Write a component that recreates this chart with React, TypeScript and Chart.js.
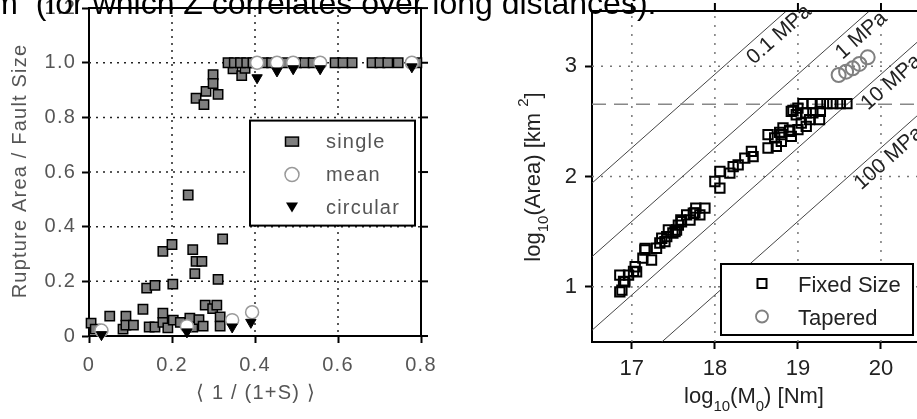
import React, { useEffect, useRef } from "react";
import { Chart, registerables } from "chart.js";
Chart.register(...registerables);

// ---------- Left panel data ----------
const singleX = [
  0.005, 0.015, 0.05, 0.082, 0.089, 0.089, 0.107, 0.13, 0.139, 0.145, 0.159, 0.159, 0.178, 0.178, 0.178, 0.19, 0.2, 0.202,
  0.203, 0.22, 0.239, 0.243, 0.25, 0.25, 0.255, 0.258, 0.265, 0.272, 0.275, 0.28, 0.298, 0.308, 0.311, 0.316, 0.316, 0.322,
  0.258, 0.277, 0.282, 0.299, 0.299, 0.311, 0.347, 0.368, 0.376,
  0.335, 0.35, 0.365, 0.38, 0.395, 0.42, 0.44, 0.47, 0.5, 0.52, 0.54, 0.593, 0.612, 0.634, 0.682, 0.701, 0.72, 0.745, 0.79,
];
const singleY = [
  0.047, 0.025, 0.073, 0.025, 0.073, 0.04, 0.04, 0.098, 0.175, 0.033, 0.185, 0.033, 0.31, 0.084, 0.05, 0.03, 0.335, 0.19,
  0.058, 0.05, 0.516, 0.065, 0.316, 0.033, 0.228, 0.273, 0.06, 0.273, 0.036, 0.113, 0.1, 0.113, 0.207, 0.07, 0.036, 0.355,
  0.87, 0.847, 0.895, 0.956, 0.924, 0.884, 0.978, 0.953, 0.98,
  1, 1, 1, 1, 1, 1, 1, 1, 1, 1, 1, 1, 1, 1, 1, 1, 1, 1, 1,
];
const meanX = [0.03, 0.236, 0.345, 0.393, 0.405, 0.453, 0.492, 0.557, 0.778];
const meanY = [0.02, 0.036, 0.058, 0.087, 1.0, 1.0, 1.0, 1.0, 1.0];
const circularX = [0.03, 0.236, 0.345, 0.39, 0.405, 0.453, 0.492, 0.557, 0.778];
const circularY = [0.005, 0.015, 0.033, 0.05, 0.945, 0.97, 0.978, 0.978, 0.985];
const leftXTicks = [0, 0.2, 0.4, 0.6, 0.8];
const leftYTicks = [0, 0.2, 0.4, 0.6, 0.8, 1.0, 1.2];
const leftLegendLabels = ["single", "mean", "circular"];
const leftXTitle = "⟨ 1 / (1+S) ⟩";
const leftYTitle = "Rupture Area / Fault Size";

// ---------- Right panel data ----------
const fixedX = [
  16.855, 16.855, 16.88, 16.9, 16.916, 16.96, 17.02, 17.04, 17.057, 17.133, 17.157, 17.16, 17.237, 17.297, 17.337, 17.36,
  17.398, 17.42, 17.44, 17.494, 17.52, 17.538, 17.56, 17.59, 17.598, 17.66, 17.7, 17.74, 17.759, 17.77, 17.819, 17.88,
  18.0, 18.06, 18.06, 18.18, 18.22, 18.28, 18.36, 18.44, 18.46, 18.64, 18.64, 18.72, 18.74, 18.78, 18.8, 18.8,
  18.82, 18.9, 18.9, 18.92, 18.92, 18.94, 18.98, 19.0, 19.0, 19.04, 19.1, 19.1, 19.14, 19.18, 19.26, 19.27,
  19.06, 19.17, 19.27, 19.35, 19.42, 19.51, 19.59,
];
const fixedY = [
  1.106, 0.955, 0.97, 1.05, 1.045, 1.106, 1.14, 1.182, 1.136, 1.26, 1.334, 1.349, 1.243, 1.35, 1.397, 1.44,
  1.41, 1.455, 1.515, 1.488, 1.5, 1.515, 1.56, 1.606, 1.59, 1.652, 1.606, 1.667, 1.67, 1.713, 1.652, 1.713,
  1.955, 2.045, 1.895, 2.03, 2.09, 2.106, 2.167, 2.227, 2.18, 2.258, 2.379, 2.35, 2.273, 2.4, 2.318, 2.379,
  2.44, 2.41, 2.42, 2.364, 2.59, 2.6, 2.56, 2.425, 2.62, 2.485, 2.455, 2.576, 2.515, 2.576, 2.515, 2.59,
  2.66, 2.66, 2.66, 2.66, 2.66, 2.66, 2.66,
];
const taperedX = [19.49, 19.58, 19.66, 19.74, 19.84];
const taperedY = [2.92, 2.95, 2.98, 3.02, 3.08];
const rightXTicks = [17, 18, 19, 20];
const rightYTicks = [1, 2, 3];
const stressDrops = [0.1, 1, 10, 100]; // MPa
const stressLabels = ["0.1 MPa", "1 MPa", "10 MPa", "100 MPa"];
const stressLabelAtX = [18.67, 19.66, 20.02, 19.99];
const moment1MPaUnitArea = 14.61; // log10 M0 where log10 A = 0 for 1 MPa
const saturationLogArea = 2.655;
const rightLegendLabels = ["Fixed Size", "Tapered"];

const FAM = '"Liberation Sans", Arial, sans-serif';
const LEFT_SIZE = 20;
const LEFT_COLOR = "#555";

type Seg = { text: string; size: number; dy: number };
function drawRich(ctx: CanvasRenderingContext2D, segs: Seg[], cx: number, base: number, color: string) {
  let total = 0;
  const widths = segs.map((s) => {
    ctx.font = `${s.size}px ${FAM}`;
    const w = ctx.measureText(s.text).width;
    total += w;
    return w;
  });
  let x = cx - total / 2;
  ctx.fillStyle = color;
  ctx.textAlign = "left";
  ctx.textBaseline = "alphabetic";
  segs.forEach((s, i) => {
    ctx.font = `${s.size}px ${FAM}`;
    ctx.fillText(s.text, x, base + s.dy);
    x += widths[i];
  });
}

const leftDecor = {
  id: "leftDecor",
  beforeDraw(chart: any) {
    (chart.ctx as any).letterSpacing = "1.2px";
  },
  beforeDatasetsDraw(chart: any) {
    const { ctx, chartArea: a, scales } = chart;
    const x = scales.x, y = scales.y;
    ctx.save();
    ctx.strokeStyle = "#222";
    ctx.lineWidth = 1.5;
    ctx.setLineDash([2, 5]);
    leftXTicks.forEach((v) => {
      if (v <= x.min || v >= x.max) return;
      const p = x.getPixelForValue(v);
      ctx.beginPath(); ctx.moveTo(p, a.top); ctx.lineTo(p, a.bottom); ctx.stroke();
    });
    leftYTicks.forEach((v) => {
      if (v <= y.min || v >= y.max) return;
      const p = y.getPixelForValue(v);
      ctx.beginPath(); ctx.moveTo(a.left, p); ctx.lineTo(a.right, p); ctx.stroke();
    });
    ctx.setLineDash([]);
    ctx.strokeStyle = "#000";
    ctx.lineWidth = 2;
    ctx.beginPath();
    ctx.moveTo(a.left, a.top); ctx.lineTo(a.right, a.top); ctx.lineTo(a.right, a.bottom);
    ctx.stroke();
    leftYTicks.forEach((v) => {
      const p = y.getPixelForValue(v);
      ctx.beginPath(); ctx.moveTo(a.right, p); ctx.lineTo(a.right + 7, p); ctx.stroke();
    });
    ctx.restore();
  },
  afterDatasetsDraw(chart: any) {
    const { ctx, chartArea: a } = chart;
    ctx.save();
    // legend
    const bx = a.left + 161, by = a.top + 112.5, bw = 165, bh = 105;
    ctx.fillStyle = "#fff";
    ctx.fillRect(bx, by, bw, bh);
    ctx.strokeStyle = "#000";
    ctx.lineWidth = 2;
    ctx.strokeRect(bx, by, bw, bh);
    const ix = bx + 42;
    const rows = [by + 21, by + 54, by + 87];
    ctx.fillStyle = "#7f7f7f";
    ctx.fillRect(ix - 6.5, rows[0] - 4.5, 13, 9);
    ctx.lineWidth = 1.5;
    ctx.strokeRect(ix - 6.5, rows[0] - 4.5, 13, 9);
    ctx.beginPath();
    ctx.arc(ix, rows[1], 7, 0, Math.PI * 2);
    ctx.fillStyle = "#fff"; ctx.fill();
    ctx.strokeStyle = "#999"; ctx.stroke();
    ctx.beginPath();
    ctx.moveTo(ix - 6, rows[2] - 5); ctx.lineTo(ix + 6, rows[2] - 5); ctx.lineTo(ix, rows[2] + 5); ctx.closePath();
    ctx.fillStyle = "#000"; ctx.fill();
    ctx.font = `${LEFT_SIZE}px ${FAM}`;
    ctx.fillStyle = LEFT_COLOR;
    ctx.textAlign = "left";
    ctx.textBaseline = "alphabetic";
    leftLegendLabels.forEach((t, i) => ctx.fillText(t, bx + 76, rows[i] + 6));
    // titles
    ctx.textAlign = "center";
    ctx.fillText(leftXTitle, 256, 399);
    ctx.translate(26, 171);
    ctx.rotate(-Math.PI / 2);
    ctx.fillText(leftYTitle, 0, 0);
    ctx.restore();
  },
};

function stressLogArea(logM0: number, sigma: number) {
  return (logM0 - (moment1MPaUnitArea + Math.log10(sigma))) / 1.5;
}

const rightDecor = {
  id: "rightDecor",
  beforeDatasetsDraw(chart: any) {
    const { ctx, chartArea: a, scales } = chart;
    const x = scales.x, y = scales.y;
    ctx.save();
    ctx.beginPath();
    ctx.rect(a.left, a.top, a.right - a.left, a.bottom - a.top);
    ctx.clip();
    ctx.strokeStyle = "#777";
    ctx.lineWidth = 1.5;
    ctx.setLineDash([2, 7]);
    rightXTicks.forEach((v) => {
      const p = x.getPixelForValue(v);
      ctx.beginPath(); ctx.moveTo(p, a.bottom); ctx.lineTo(p, a.top); ctx.stroke();
    });
    rightYTicks.forEach((v) => {
      const p = y.getPixelForValue(v);
      ctx.beginPath(); ctx.moveTo(a.left, p); ctx.lineTo(a.right, p); ctx.stroke();
    });
    ctx.setLineDash([]);
    ctx.strokeStyle = "#444";
    ctx.lineWidth = 1;
    stressDrops.forEach((s) => {
      ctx.beginPath();
      ctx.moveTo(x.getPixelForValue(x.min), y.getPixelForValue(stressLogArea(x.min, s)));
      ctx.lineTo(x.getPixelForValue(x.max), y.getPixelForValue(stressLogArea(x.max, s)));
      ctx.stroke();
    });
    ctx.strokeStyle = "#888";
    ctx.lineWidth = 1.5;
    ctx.setLineDash([14, 8]);
    const sp = y.getPixelForValue(saturationLogArea);
    ctx.beginPath(); ctx.moveTo(a.left, sp); ctx.lineTo(a.right, sp); ctx.stroke();
    ctx.restore();

    ctx.save();
    ctx.strokeStyle = "#000";
    ctx.lineWidth = 2;
    ctx.beginPath(); ctx.moveTo(a.left, a.top); ctx.lineTo(a.right + 20, a.top); ctx.stroke();
    rightXTicks.forEach((v) => {
      const p = x.getPixelForValue(v);
      ctx.beginPath(); ctx.moveTo(p, a.top); ctx.lineTo(p, a.top - 8); ctx.stroke();
    });
    const dx = x.getPixelForValue(x.min + 1) - x.getPixelForValue(x.min);
    const dy = y.getPixelForValue(y.min) - y.getPixelForValue(y.min + 1 / 1.5);
    const ang = Math.atan2(dy, dx);
    ctx.font = `21px ${FAM}`;
    ctx.fillStyle = "#222";
    ctx.textAlign = "center";
    ctx.textBaseline = "middle";
    stressDrops.forEach((s, i) => {
      const lx = stressLabelAtX[i];
      const px = x.getPixelForValue(lx);
      const py = y.getPixelForValue(stressLogArea(lx, s));
      const d = 13;
      ctx.save();
      ctx.translate(px + Math.sin(ang) * d, py + Math.cos(ang) * d);
      ctx.rotate(-ang);
      ctx.fillText(stressLabels[i], 0, 0);
      ctx.restore();
    });
    ctx.restore();
  },
  afterDatasetsDraw(chart: any) {
    const { ctx, chartArea: a } = chart;
    ctx.save();
    const bx = a.left + 129, bw = 192, bh = 71, by = a.bottom - 7 - bh;
    ctx.fillStyle = "#fff";
    ctx.fillRect(bx, by, bw, bh);
    ctx.strokeStyle = "#000";
    ctx.lineWidth = 2;
    ctx.strokeRect(bx, by, bw, bh);
    const ix = bx + 41;
    const rows = [by + 19.5, by + 52.5];
    ctx.strokeRect(ix - 4.5, rows[0] - 4.5, 9, 9);
    ctx.beginPath();
    ctx.arc(ix, rows[1], 6, 0, Math.PI * 2);
    ctx.strokeStyle = "#808080";
    ctx.lineWidth = 1.8;
    ctx.stroke();
    ctx.font = `22px ${FAM}`;
    ctx.fillStyle = "#222";
    ctx.textAlign = "left";
    ctx.textBaseline = "alphabetic";
    rightLegendLabels.forEach((t, i) => ctx.fillText(t, bx + 77, rows[i] + 8));
    drawRich(ctx, [
      { text: "log", size: 22, dy: 0 },
      { text: "10", size: 15, dy: 8 },
      { text: "(M", size: 22, dy: 0 },
      { text: "0", size: 15, dy: 8 },
      { text: ") [Nm]", size: 22, dy: 0 },
    ], 294, 403, "#222");
    ctx.save();
    ctx.translate(80, 177);
    ctx.rotate(-Math.PI / 2);
    drawRich(ctx, [
      { text: "log", size: 22, dy: 0 },
      { text: "10", size: 15, dy: 8 },
      { text: "(Area) [km ", size: 22, dy: 0 },
      { text: "2", size: 15, dy: -12 },
      { text: "]", size: 22, dy: 0 },
    ], 0, 0, "#222");
    ctx.restore();
    ctx.restore();
  },
};

function tickSetter(list: number[]) {
  return (s: any) => {
    s.ticks = list.map((v) => ({ value: v }));
  };
}

function LeftChart() {
  const ref = useRef<HTMLCanvasElement>(null);
  useEffect(() => {
    const fmt = (v: any) => (Number(v) === 0 ? "0" : Number(v).toFixed(1));
    const chart = new Chart(ref.current!, {
      type: "scatter",
      data: {
        datasets: [
          {
            label: leftLegendLabels[2],
            data: circularX.map((x, i) => ({ x, y: circularY[i] })),
            pointStyle: "triangle",
            pointRotation: 180,
            pointRadius: 6,
            backgroundColor: "#000",
            borderColor: "#000",
            borderWidth: 1,
            clip: false,
            order: 1,
          } as any,
          {
            label: leftLegendLabels[1],
            data: meanX.map((x, i) => ({ x, y: meanY[i] })),
            pointStyle: "circle",
            pointRadius: 6.5,
            backgroundColor: "#fff",
            borderColor: "#9a9a9a",
            borderWidth: 1.5,
            clip: false,
            order: 2,
          },
          {
            label: leftLegendLabels[0],
            data: singleX.map((x, i) => ({ x, y: singleY[i] })),
            pointStyle: "rect",
            pointRadius: 6.6,
            backgroundColor: "#7f7f7f",
            borderColor: "#000",
            borderWidth: 1.5,
            clip: false,
            order: 3,
          },
        ],
      },
      options: {
        animation: false,
        responsive: false,
        devicePixelRatio: 1,
        layout: { padding: { top: 5.5, right: 39, left: 0, bottom: 0 } },
        plugins: { legend: { display: false }, tooltip: { enabled: false } },
        scales: {
          x: {
            type: "linear",
            min: 0,
            max: 0.8,
            afterBuildTicks: tickSetter(leftXTicks),
            afterFit: (s: any) => { s.height = 83; s.paddingLeft = 0; s.paddingRight = 0; },
            grid: { drawOnChartArea: false, drawTicks: true, tickLength: 7, tickColor: "#000", tickWidth: 2, color: "#000" },
            border: { color: "#000", width: 2 },
            ticks: { color: LEFT_COLOR, font: { family: FAM, size: LEFT_SIZE }, padding: 10, maxRotation: 0, autoSkip: false, callback: fmt },
          },
          y: {
            type: "linear",
            min: 0,
            max: 1.2,
            afterBuildTicks: tickSetter(leftYTicks),
            afterFit: (s: any) => { s.width = 89; s.paddingTop = 0; s.paddingBottom = 0; },
            grid: { drawOnChartArea: false, drawTicks: true, tickLength: 7, tickColor: "#000", tickWidth: 2, color: "#000" },
            border: { color: "#000", width: 2 },
            ticks: { color: LEFT_COLOR, font: { family: FAM, size: LEFT_SIZE }, padding: 6, autoSkip: false, callback: fmt },
          },
        },
      } as any,
      plugins: [leftDecor],
    });
    return () => chart.destroy();
  }, []);
  return <canvas ref={ref} width={460} height={419} style={{ position: "absolute", left: 0, top: 0, width: 460, height: 419 }} />;
}

function RightChart() {
  const ref = useRef<HTMLCanvasElement>(null);
  useEffect(() => {
    const chart = new Chart(ref.current!, {
      type: "scatter",
      data: {
        datasets: [
          {
            label: rightLegendLabels[1],
            data: taperedX.map((x, i) => ({ x, y: taperedY[i] })),
            pointStyle: "circle",
            pointRadius: 7,
            backgroundColor: "rgba(0,0,0,0)",
            borderColor: "#808080",
            borderWidth: 2,
            clip: false,
            order: 1,
          },
          {
            label: rightLegendLabels[0],
            data: fixedX.map((x, i) => ({ x, y: fixedY[i] })),
            pointStyle: "rect",
            pointRadius: 6.6,
            backgroundColor: "rgba(0,0,0,0)",
            borderColor: "#000",
            borderWidth: 2,
            clip: false,
            order: 2,
          },
        ],
      },
      options: {
        animation: false,
        responsive: false,
        devicePixelRatio: 1,
        layout: { padding: { top: 11, right: 10, left: 0, bottom: 0 } },
        plugins: { legend: { display: false }, tooltip: { enabled: false } },
        scales: {
          x: {
            type: "linear",
            min: 16.52,
            max: 20.47,
            afterBuildTicks: tickSetter(rightXTicks),
            afterFit: (s: any) => { s.height = 77; s.paddingLeft = 0; s.paddingRight = 0; },
            grid: { drawOnChartArea: false, drawTicks: true, tickLength: 7, tickColor: "#000", tickWidth: 2, color: "#000" },
            border: { color: "#000", width: 2 },
            ticks: { color: "#222", font: { family: FAM, size: 22 }, padding: 7, maxRotation: 0, autoSkip: false, callback: (v: any) => String(v) },
          },
          y: {
            type: "linear",
            min: 0.5,
            max: 3.5,
            afterBuildTicks: tickSetter(rightYTicks),
            afterFit: (s: any) => { s.width = 132; s.paddingTop = 0; s.paddingBottom = 0; },
            grid: { drawOnChartArea: false, drawTicks: true, tickLength: 7, tickColor: "#000", tickWidth: 2, color: "#000" },
            border: { color: "#000", width: 2 },
            ticks: { color: "#222", font: { family: FAM, size: 22 }, padding: 8, autoSkip: false, callback: (v: any) => String(v) },
          },
        },
      } as any,
      plugins: [rightDecor],
    });
    return () => chart.destroy();
  }, []);
  return <canvas ref={ref} width={470} height={419} style={{ position: "absolute", left: 460, top: 0, width: 470, height: 419 }} />;
}

export default function App() {
  return (
    <div style={{ position: "fixed", left: 0, top: 0, width: 917, height: 419, overflow: "hidden", background: "#fff" }}>
      <LeftChart />
      <RightChart />
      <div
        style={{
          position: "absolute",
          left: -8.7,
          top: -13,
          fontFamily: FAM,
          fontSize: 32,
          lineHeight: "32px",
          whiteSpace: "pre",
          color: "#000",
          margin: 0,
        }}
      >
        {"m  (for which Z correlates over long distances)."}
      </div>
    </div>
  );
}
